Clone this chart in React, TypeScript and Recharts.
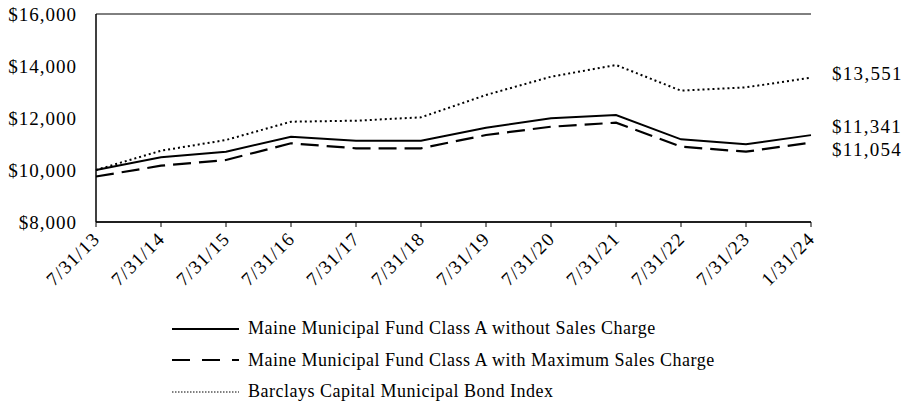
import {
  CartesianGrid,
  Line,
  LineChart,
  XAxis,
  YAxis,
} from "recharts";

const dates = [
  "7/31/13", "7/31/14", "7/31/15", "7/31/16", "7/31/17", "7/31/18",
  "7/31/19", "7/31/20", "7/31/21", "7/31/22", "7/31/23", "1/31/24",
];
const withoutCharge = [10000, 10488, 10704, 11281, 11127, 11127, 11627, 11988, 12115, 11180, 10988, 11341];
const withCharge = [9750, 10165, 10385, 11027, 10835, 10835, 11346, 11665, 11820, 10897, 10705, 11054];
const bondIndex = [10000, 10742, 11154, 11858, 11896, 12026, 12885, 13588, 14038, 13050, 13180, 13551];
const yTicks = [8000, 10000, 12000, 14000, 16000];

const chartData = dates.map((d, i) => ({
  name: d,
  noLoad: withoutCharge[i],
  load: withCharge[i],
  index: bondIndex[i],
}));

const series = [
  { key: "noLoad", name: "Maine Municipal Fund Class A without Sales Charge", dash: undefined, width: 2, dy: -8 },
  { key: "load", name: "Maine Municipal Fund Class A with Maximum Sales Charge", dash: "18 8", width: 2.2, dy: 7 },
  { key: "index", name: "Barclays Capital Municipal Bond Index", dash: "2 3", width: 2, dy: -4 },
];

const FONT = "'Liberation Serif', 'Times New Roman', serif";
const money = (v: number) => "$" + v.toLocaleString("en-US");

const XTick = ({ x, y, payload }: any) => (
  <text
    x={x + 5}
    y={y + 11}
    transform={`rotate(-45 ${x + 5} ${y + 11})`}
    textAnchor="end"
    fontFamily={FONT}
    fontSize={19}
    letterSpacing={1.2}
    fill="#000"
  >
    {payload.value}
  </text>
);

const endLabel = (dy: number) => (props: any) => {
  const { x, y, index, value } = props;
  if (index !== dates.length - 1) return null;
  return (
    <text x={x + 21} y={y + dy} dy={6} fontFamily={FONT} fontSize={19} letterSpacing={1.3} fill="#000">
      {money(value)}
    </text>
  );
};

export default function App() {
  return (
    <div style={{ position: "absolute", left: 0, top: 0, width: 908, height: 406, background: "#fff" }}>
      <LineChart
        width={908}
        height={300}
        data={chartData}
        margin={{ top: 14, right: 97, left: 0, bottom: 0 }}
      >
        <CartesianGrid vertical={false} stroke="#000" strokeOpacity={1} />
        <XAxis
          dataKey="name"
          interval={0}
          height={78}
          stroke="#000"
          tickSize={5}
          tick={<XTick />}
          axisLine={{ stroke: "#000", strokeWidth: 1.5 }}
          tickLine={{ stroke: "#000" }}
        />
        <YAxis
          yAxisId="left"
          width={96}
          domain={[8000, 16000]}
          ticks={yTicks}
          tickFormatter={money}
          tickLine={false}
          tickSize={0}
          tickMargin={19}
          axisLine={{ stroke: "#000", strokeWidth: 1.5 }}
          tick={{ fill: "#000", fontFamily: FONT, fontSize: 19, letterSpacing: 1 }}
        />
        <YAxis
          yAxisId="right"
          orientation="right"
          width={0}
          domain={[8000, 16000]}
          tick={false}
          tickLine={false}
          axisLine={{ stroke: "#000", strokeWidth: 1.5 }}
        />
        {series.map((s) => (
          <Line
            key={s.key}
            yAxisId="left"
            type="linear"
            dataKey={s.key}
            stroke="#000"
            strokeWidth={s.width}
            strokeDasharray={s.dash}
            dot={false}
            activeDot={false}
            isAnimationActive={false}
            label={endLabel(s.dy)}
          />
        ))}
      </LineChart>
      <div
        style={{
          position: "absolute",
          left: 172,
          top: 313,
          fontFamily: FONT,
          fontSize: 18,
          letterSpacing: 0.5,
          color: "#000",
        }}
      >
        {series.map((s) => (
          <div key={s.key} style={{ display: "flex", alignItems: "center", height: 31.5, whiteSpace: "nowrap" }}>
            <svg width={76} height={10}>
              <line
                x1={0}
                y1={5}
                x2={67}
                y2={5}
                stroke="#000"
                strokeWidth={s.key === "index" ? 1 : 2}
                strokeDasharray={s.key === "load" ? "18 12" : s.key === "index" ? "1.5 1.5" : undefined}
              />
            </svg>
            <span>{s.name}</span>
          </div>
        ))}
      </div>
    </div>
  );
}
